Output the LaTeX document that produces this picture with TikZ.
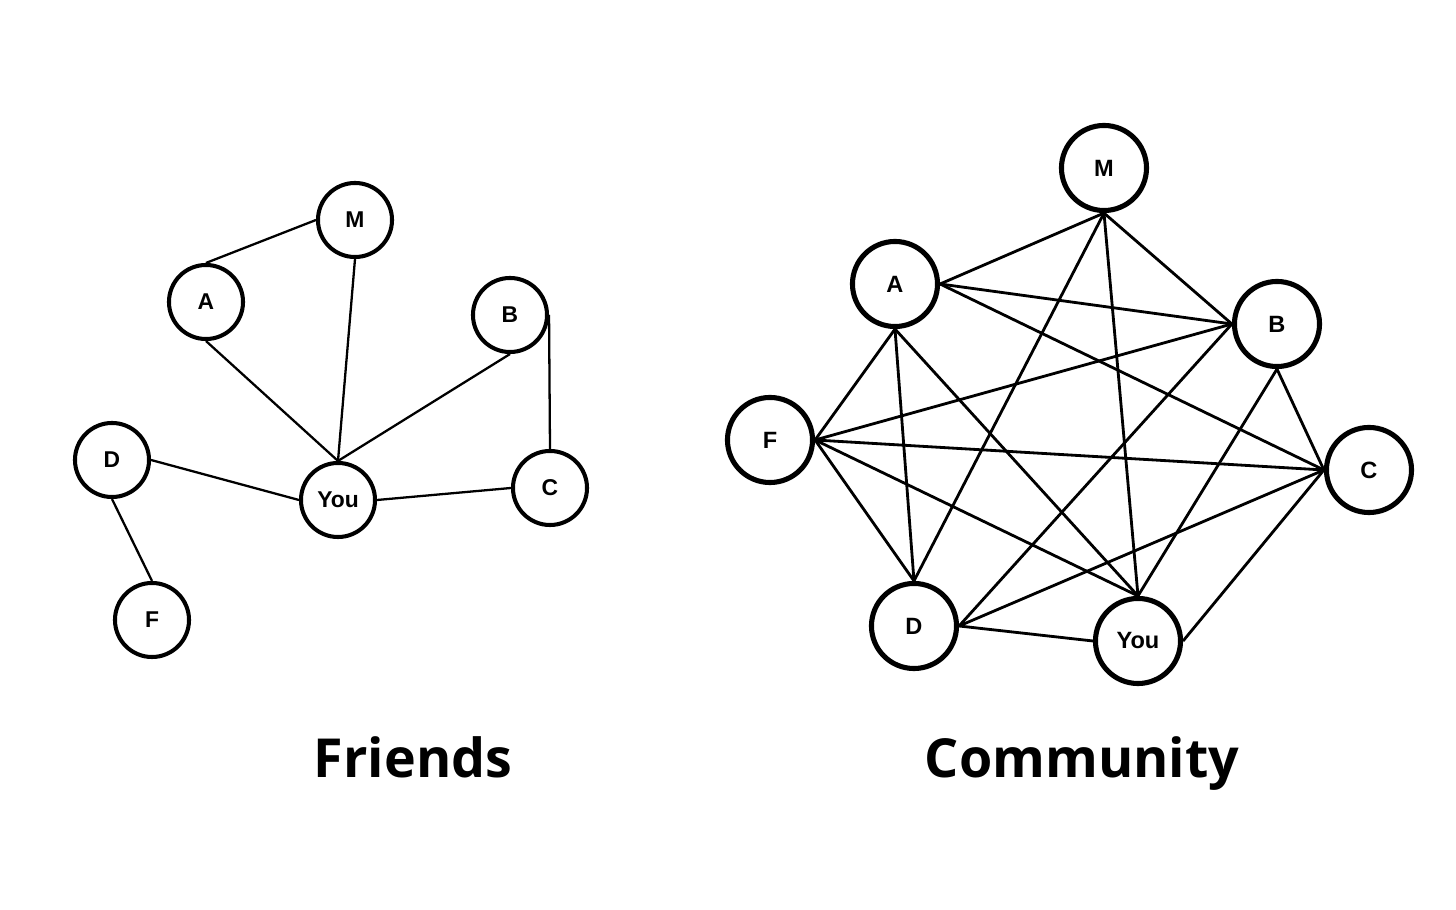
\documentclass[tikz,border=0pt]{standalone}
\usepackage{fontspec}
\setmainfont{Liberation Sans}
\newfontfamily\titlefont{Open Sans}

\begin{document}
\begin{tikzpicture}[
  x=0.01cm, y=-0.01cm,
  fnode/.style = {circle, draw, line width=1.15pt, minimum size=0.74cm, inner sep=0pt,
                  font=\fontsize{6.5}{7}\selectfont\bfseries},
  cnode/.style = {circle, draw, line width=1.45pt, minimum size=0.85cm, inner sep=0pt,
                  font=\fontsize{6.7}{7}\selectfont\bfseries},
  flink/.style = {line width=0.65pt},
  clink/.style = {line width=0.8pt},
  title/.style = {anchor=base, font=\titlefont\fontsize{15.3}{18}\selectfont\bfseries},
]
\useasboundingbox (0,0) rectangle (1456,910);

% ── Friends ──────────────────────────────────────────────────────────────────
\node[fnode] (fM)   at (355,220) {M};
\node[fnode] (fA)   at (206,302) {A};
\node[fnode] (fB)   at (510,315) {B};
\node[fnode] (fD)   at (112,460) {D};
\node[fnode] (fYou) at (338,500) {You};
\node[fnode] (fC)   at (550,488) {C};
\node[fnode] (fF)   at (152,620) {F};

\draw[flink] (fA.north) -- (fM.west);
\draw[flink] (fM.south) -- (fYou.north);
\draw[flink] (fA.south) -- (fYou.north);
\draw[flink] (fB.south) -- (fYou.north);
\draw[flink] (fB.east)  -- (fC.north);
\draw[flink] (fD.east)  -- (fYou.west);
\draw[flink] (fYou.east) -- (fC.west);
\draw[flink] (fD.south) -- (fF.north);

\node[title] (ftitle) at (413,778) {Friends};

% ── Community ────────────────────────────────────────────────────────────────
\node[cnode] (cM)   at (1104,168) {M};
\node[cnode] (cA)   at (895,284)  {A};
\node[cnode] (cB)   at (1277,324) {B};
\node[cnode] (cF)   at (770,440)  {F};
\node[cnode] (cC)   at (1369,470) {C};
\node[cnode] (cD)   at (914,626)  {D};
\node[cnode] (cYou) at (1138,641) {You};

% from M
\draw[clink] (cM.south) -- (cA.east);
\draw[clink] (cM.south) -- (cB.west);
\draw[clink] (cM.south) -- (cD.north);
\draw[clink] (cM.south) -- (cYou.north);
% from A
\draw[clink] (cA.east)  -- (cB.west);
\draw[clink] (cA.east)  -- (cC.west);
\draw[clink] (cA.south) -- (cF.east);
\draw[clink] (cA.south) -- (cD.north);
\draw[clink] (cA.south) -- (cYou.north);
% from F
\draw[clink] (cF.east) -- (cB.west);
\draw[clink] (cF.east) -- (cC.west);
\draw[clink] (cF.east) -- (cD.north);
\draw[clink] (cF.east) -- (cYou.north);
% from B
\draw[clink] (cB.south) -- (cC.west);
\draw[clink] (cB.south) -- (cYou.north);
\draw[clink] (cB.west)  -- (cD.east);
% from C, D
\draw[clink] (cC.west) -- (cD.east);
\draw[clink] (cC.west) -- (cYou.east);
\draw[clink] (cD.east) -- (cYou.west);

\node[title] (ctitle) at (1082,778) {Community};

\end{tikzpicture}
\end{document}
